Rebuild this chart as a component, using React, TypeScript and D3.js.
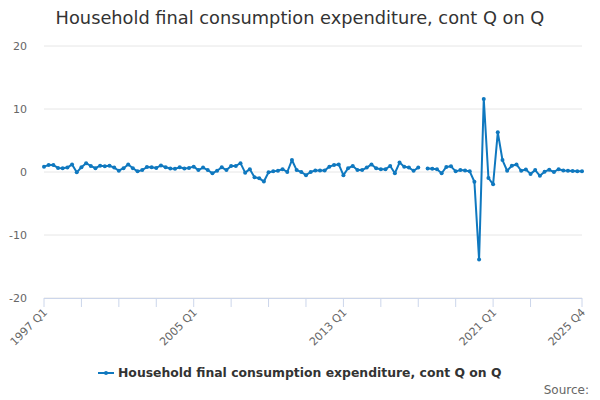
import { useEffect, useRef } from "react";
import * as d3 from "d3";

const startYear = 1997;
const quarters = ["Q1", "Q2", "Q3", "Q4"];

// quarter-on-quarter % change, 1997 Q1 .. 2025 Q4 (null = no value)
const values: (number | null)[] = [
  0.85, 1.1, 1.1, 0.65, 0.6, 0.7, 1.2, -0.05, 0.75, 1.4,
  0.95, 0.6, 1.0, 0.9, 1.0, 0.7, 0.2, 0.6, 1.2, 0.6,
  0.1, 0.3, 0.8, 0.75, 0.65, 1.05, 0.75, 0.55, 0.5, 0.75,
  0.55, 0.65, 0.85, 0.3, 0.7, 0.3, -0.2, 0.2, 0.75, 0.3,
  0.95, 0.95, 1.4, -0.1, 0.45, -0.85, -1.0, -1.5, -0.05, 0.1,
  0.2, 0.45, 0.0, 1.9, 0.3, 0.0, -0.5, 0.0, 0.25, 0.25,
  0.25, 0.85, 1.1, 1.2, -0.5, 0.6, 0.95, 0.3, 0.3, 0.7,
  1.2, 0.6, 0.45, 0.45, 0.95, -0.2, 1.5, 0.85, 0.7, 0.2,
  0.7, null, 0.55, 0.5, 0.45, -0.2, 0.8, 0.9, 0.1, 0.3,
  0.25, 0.1, -1.55, -13.9, 11.6, -0.95, -1.95, 6.3, 1.9, 0.2,
  1.0, 1.2, 0.2, 0.4, -0.3, 0.3, -0.6, 0.05, 0.35, 0.0,
  0.45, 0.25, 0.2, 0.15, 0.1, 0.1,
];

const labels = values.map(
  (_, i) => `${startYear + Math.floor(i / 4)} ${quarters[i % 4]}`
);
const yTicks = [20, 10, 0, -10, -20];
const xLabelIdx = [0, 32, 64, 96, 115];
const xTickIdx = [0, 8, 16, 24, 32, 40, 48, 56, 64, 72, 80, 88, 96, 104, 115];

const title = "Household final consumption expenditure, cont Q on Q";
const seriesName = "Household final consumption expenditure, cont Q on Q";
const lineColor = "#0f78bf";
const font = "'DejaVu Sans', Verdana, sans-serif";

export default function App() {
  const svgRef = useRef<SVGSVGElement>(null);

  useEffect(() => {
    if (!svgRef.current) return;
    const width = 600;
    const height = 400;
    const svg = d3.select(svgRef.current);
    svg.selectAll("*").remove();
    svg.attr("width", width).attr("height", height);

    const x = d3.scaleLinear().domain([0, values.length - 1]).range([44, 582]);
    const y = d3.scaleLinear().domain([-20, 20]).range([298, 46]);

    svg
      .append("text")
      .attr("x", width / 2)
      .attr("y", 24)
      .attr("text-anchor", "middle")
      .attr("font-size", "17.8px")
      .attr("fill", "#333")
      .text(title);

    // gridlines + y labels
    const grid = svg.append("g");
    yTicks.forEach((t) => {
      grid
        .append("line")
        .attr("x1", 44)
        .attr("x2", 582)
        .attr("y1", y(t))
        .attr("y2", y(t))
        .attr("stroke", "#e6e6e6")
        .attr("stroke-width", 1);
      grid
        .append("text")
        .attr("x", 27)
        .attr("y", y(t))
        .attr("dy", "0.35em")
        .attr("text-anchor", "end")
        .attr("font-size", "11px")
        .attr("fill", "#666")
        .text(t);
    });

    // x axis line & ticks
    const xa = svg.append("g");
    xa.append("line")
      .attr("x1", 44)
      .attr("x2", 582)
      .attr("y1", 298.5)
      .attr("y2", 298.5)
      .attr("stroke", "#ccd6eb");
    xTickIdx.forEach((i) => {
      xa.append("line")
        .attr("x1", x(i))
        .attr("x2", x(i))
        .attr("y1", 298)
        .attr("y2", 307)
        .attr("stroke", "#ccd6eb");
    });
    xLabelIdx.forEach((i) => {
      xa.append("text")
        .attr("transform", `translate(${x(i) + 4},${313}) rotate(-45)`)
        .attr("text-anchor", "end")
        .attr("font-size", "11px")
        .attr("fill", "#666")
        .text(labels[i]);
    });

    // series
    const pts = values.map((v, i) => ({ i, v }));
    const line = d3
      .line<{ i: number; v: number | null }>()
      .defined((d) => d.v !== null)
      .x((d) => x(d.i))
      .y((d) => y(d.v as number));

    svg
      .append("path")
      .datum(pts)
      .attr("d", line)
      .attr("fill", "none")
      .attr("stroke", lineColor)
      .attr("stroke-width", 2)
      .attr("stroke-linejoin", "round");

    svg
      .append("g")
      .selectAll("circle")
      .data(pts.filter((d) => d.v !== null))
      .enter()
      .append("circle")
      .attr("cx", (d) => x(d.i))
      .attr("cy", (d) => y(d.v as number))
      .attr("r", 2)
      .attr("fill", lineColor);

    // legend
    const lg = svg.append("g").attr("transform", "translate(98,373)");
    lg.append("line")
      .attr("x1", 0)
      .attr("x2", 16)
      .attr("y1", 0)
      .attr("y2", 0)
      .attr("stroke", lineColor)
      .attr("stroke-width", 2);
    lg.append("circle").attr("cx", 8).attr("cy", 0).attr("r", 2).attr("fill", lineColor);
    lg.append("text")
      .attr("x", 20)
      .attr("y", 0)
      .attr("dy", "0.35em")
      .attr("font-size", "12.4px")
      .attr("font-weight", "bold")
      .attr("fill", "#333")
      .text(seriesName);

    svg
      .append("text")
      .attr("x", 589)
      .attr("y", 394)
      .attr("text-anchor", "end")
      .attr("font-size", "12px")
      .attr("fill", "#666")
      .text("Source:");
  }, []);

  return (
    <svg
      ref={svgRef}
      style={{ position: "absolute", left: 0, top: 0, fontFamily: font }}
    />
  );
}
